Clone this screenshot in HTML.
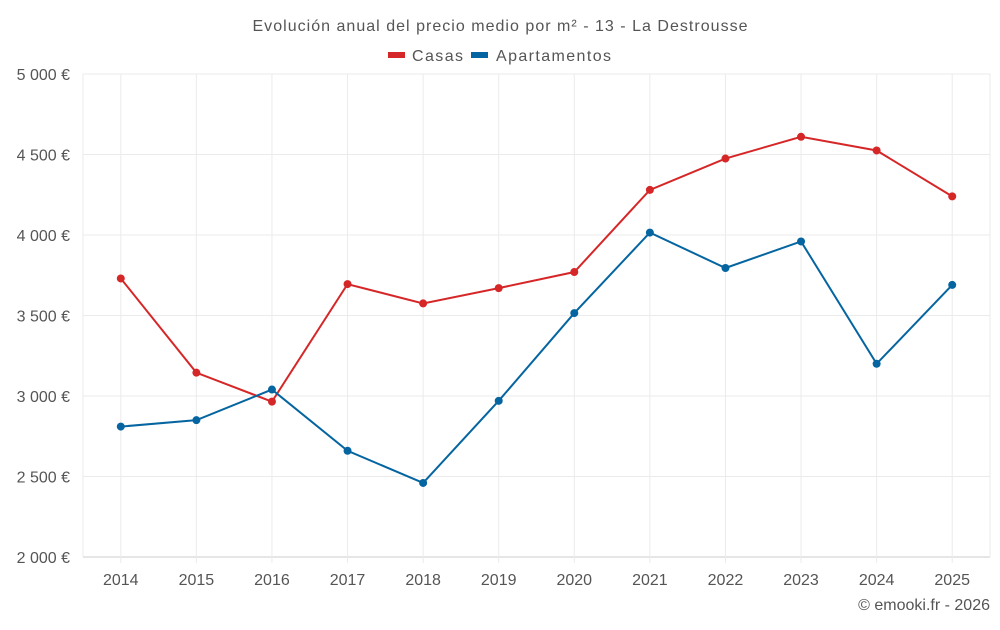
<!DOCTYPE html>
<html><head><meta charset="utf-8"><style>
body{margin:0;background:#fff;}
svg text{font-family:"Liberation Sans",sans-serif;fill:#555;}
</style></head><body>
<svg id="c" width="1000" height="625">
<text x="500" y="31" text-anchor="middle" font-size="16" textLength="495">Evolución anual del precio medio por m² - 13 - La Destrousse</text>
<g>
<rect x="388" y="52" width="17" height="6" fill="#d62728"/>
<text x="412" y="61" font-size="16" textLength="51">Casas</text>
<rect x="471" y="52" width="17" height="6" fill="#0565a0"/>
<text x="496" y="61" font-size="16" textLength="115">Apartamentos</text>
</g>
<g id="grid"></g><g id="axes"></g><g id="series"></g>
<text x="990" y="610" text-anchor="end" font-size="16">© emooki.fr - 2026</text>
</svg>
<script>
const years=[2014,2015,2016,2017,2018,2019,2020,2021,2022,2023,2024,2025];
const casas=[3730,3145,2965,3695,3575,3670,3770,4280,4475,4610,4525,4240];
const apartamentos=[2810,2850,3040,2660,2460,2970,3515,4015,3795,3960,3200,3690];
const yTicks=[2000,2500,3000,3500,4000,4500,5000];
const yLabels=["2 000 €","2 500 €","3 000 €","3 500 €","4 000 €","4 500 €","5 000 €"];
const ns="http://www.w3.org/2000/svg";
const L=83,R=990,T=74,B=557;
const step=(R-L)/years.length;
const x=i=>L+step*(i+0.5);
const y=v=>B-(v-2000)/3000*(B-T);
function mk(t,a,p){const e=document.createElementNS(ns,t);for(const k in a)e.setAttribute(k,a[k]);p.appendChild(e);return e;}
const grid=document.getElementById('grid'),axes=document.getElementById('axes'),ser=document.getElementById('series');
yTicks.forEach((v,i)=>{
 const l=mk('line',{x1:L,x2:R,y1:y(v),y2:y(v),stroke:i==0?'#ccc':'#ebebeb'},grid);
 
 
 const t=mk('text',{x:70,y:y(v)+6,'text-anchor':'end','font-size':'16'},axes);
 t.textContent=yLabels[i];
 
 
});
[L,R].forEach(xx=>{const l=mk('line',{x1:xx,x2:xx,y1:T,y2:B,stroke:'#ebebeb'},grid);
 
 });
years.forEach((yr,i)=>{
 const l=mk('line',{x1:x(i),x2:x(i),y1:T,y2:B+6,stroke:'#ebebeb'},grid);
 
 
 const t=mk('text',{x:x(i),y:585,'text-anchor':'middle','font-size':'16'},axes);
 t.textContent=yr;
 
 
});
function draw(vals,col,name){
 const p=mk('polyline',{points:vals.map((v,i)=>x(i)+','+y(v)).join(' '),fill:'none',stroke:col,'stroke-width':2},ser);
 
 
 vals.forEach((v,i)=>{const c=mk('circle',{cx:x(i),cy:y(v),r:4,fill:col},ser);
  
  });
}
draw(casas,'#d62728','casas');
draw(apartamentos,'#0565a0','apartamentos');
</script>
</body></html>
